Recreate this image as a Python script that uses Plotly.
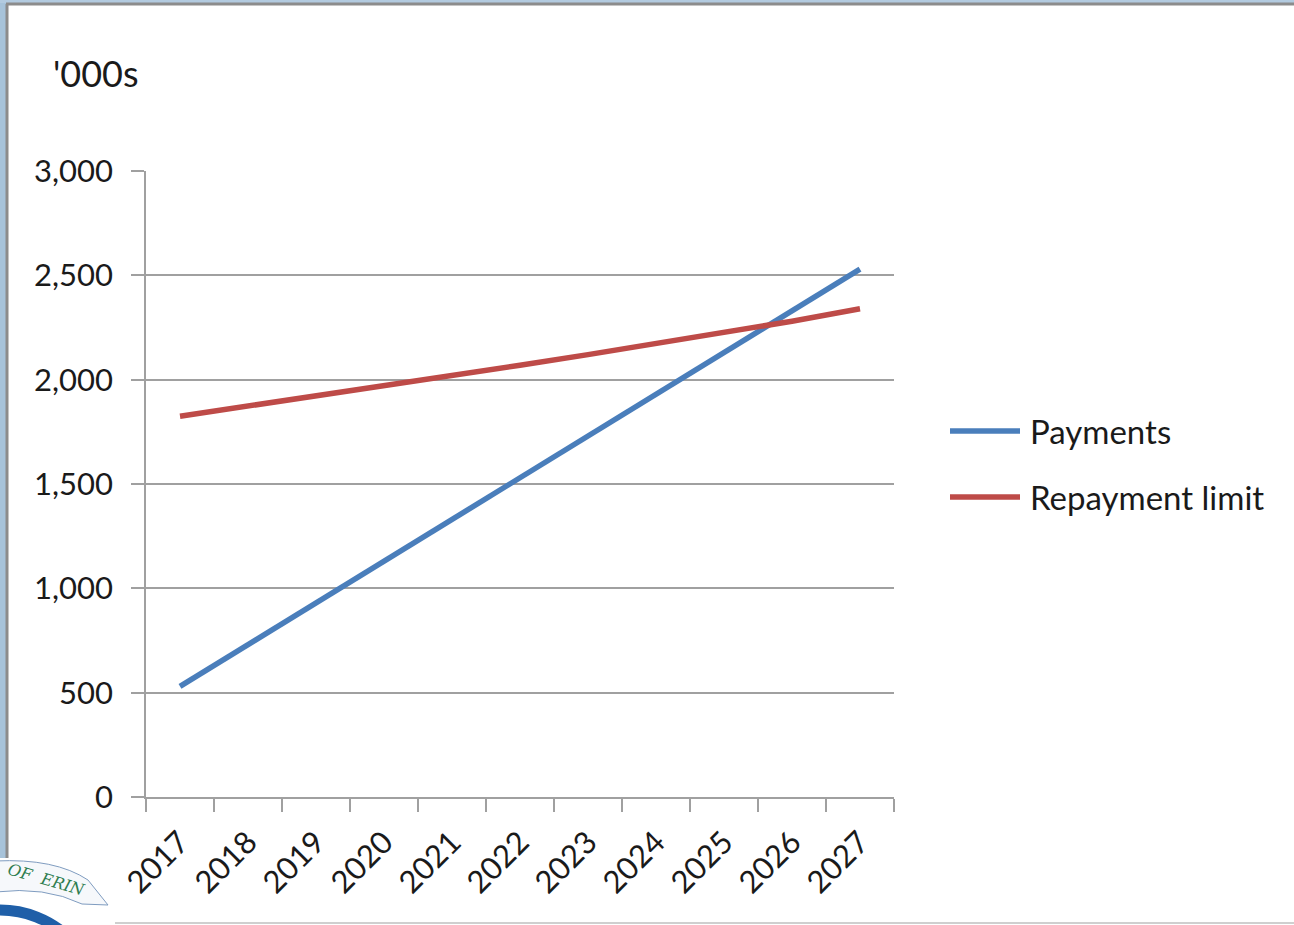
import plotly.graph_objects as go

# Annual figures in thousands
years = ["2017", "2018", "2019", "2020", "2021", "2022", "2023", "2024", "2025", "2026", "2027"]
payments = [530, 730, 935, 1135, 1335, 1535, 1735, 1935, 2135, 2335, 2530]
repayment_limit = [1825, 1873, 1922, 1971, 2020, 2069, 2120, 2172, 2225, 2280, 2340]
series_names = ["Payments", "Repayment limit"]
series_colors = ["#4A7EBB", "#BE4B48"]
y_ticks = [0, 500, 1000, 1500, 2000, 2500, 3000]
y_tick_labels = ["0", "500", "1,000", "1,500", "2,000", "2,500", "3,000"]

W, H = 1294, 925
L, R, T, B = 146, 400, 171, 128
PW, PH = W - L - R, H - T - B


def px(x):
    return (x - L) / PW


def py(y):
    return (H - B - y) / PH


FONT = "Lato, Calibri, Carlito, sans-serif"
TXT = "#1a1a1a"
GRID = "#a0a0a0"

fig = go.Figure()
for name, vals, col in zip(series_names, [payments, repayment_limit], series_colors):
    fig.add_trace(go.Scatter(
        x=years, y=vals, mode="lines", name=name,
        line=dict(color=col, width=5.5), showlegend=False,
    ))

shapes = []
annotations = []

# Legend drawn as swatch lines with labels
for i, (name, col) in enumerate(zip(series_names, series_colors)):
    yy = py(431 + i * 66)
    shapes.append(dict(type="line", xref="paper", yref="paper",
                       x0=px(950), x1=px(1020), y0=yy, y1=yy,
                       line=dict(color=col, width=5.5)))
    annotations.append(dict(xref="paper", yref="paper", x=px(1028), y=yy,
                            text=name, showarrow=False, xanchor="left", yanchor="middle",
                            font=dict(family=FONT, size=33, color=TXT)))

# Unit label
annotations.append(dict(xref="paper", yref="paper", x=px(51), y=py(73),
                        text="'000s", showarrow=False, xanchor="left", yanchor="middle",
                        font=dict(family=FONT, size=36, color=TXT)))

# Slide frame
shapes.append(dict(type="rect", xref="paper", yref="paper", layer="below",
                   x0=px(-2), x1=px(6), y0=py(858), y1=py(-5),
                   fillcolor="#a7c3da", line=dict(width=0)))
shapes.append(dict(type="rect", xref="paper", yref="paper", layer="below",
                   x0=px(-2), x1=px(W + 5), y0=py(3), y1=py(-5),
                   fillcolor="#b3cbe0", line=dict(width=0)))
shapes.append(dict(type="line", xref="paper", yref="paper",
                   x0=px(6), x1=px(W + 5), y0=py(4), y1=py(4),
                   line=dict(color="#8c8c8c", width=3)))
shapes.append(dict(type="line", xref="paper", yref="paper",
                   x0=px(7), x1=px(7), y0=py(4), y1=py(858),
                   line=dict(color="#8c8c8c", width=3)))
shapes.append(dict(type="line", xref="paper", yref="paper",
                   x0=px(115), x1=px(W + 5), y0=py(923), y1=py(923),
                   line=dict(color="#bfbfbf", width=1.5)))

# Corner emblem
shapes.append(dict(type="circle", xref="paper", yref="paper",
                   x0=px(-100), x1=px(100), y0=py(910), y1=py(1110),
                   line=dict(color="#1f5fa8", width=11)))
shapes.append(dict(type="path", xref="paper", yref="paper",
                   path=f"M {px(-5)} {py(861)} Q {px(55)} {py(858)} {px(88)} {py(880)} "
                        f"L {px(108)} {py(905)} L {px(82)} {py(904)} "
                        f"Q {px(45)} {py(886)} {px(-5)} {py(892)} Z",
                   fillcolor="#f6f8fb", line=dict(color="#7f9cc0", width=1)))
annotations.append(dict(xref="paper", yref="paper", x=px(46), y=py(879),
                        xanchor="center", yanchor="middle",
                        text="<i>OF  ERIN</i>", showarrow=False, textangle=16,
                        font=dict(family="DejaVu Serif, serif", size=16, color="#2e7d4f")))

fig.update_layout(
    width=W, height=H,
    margin=dict(l=L, r=R, t=T, b=B, autoexpand=False),
    paper_bgcolor="white", plot_bgcolor="white",
    font=dict(family=FONT, size=31, color=TXT),
    shapes=shapes, annotations=annotations,
    xaxis=dict(
        type="category", tickson="boundaries", range=[-0.5, 10.5],
        showgrid=False, showline=True, linecolor=GRID, linewidth=1.5,
        ticks="outside", ticklen=13, tickcolor=GRID, tickwidth=1.5,
        tickangle=-45, ticklabelstandoff=13,
        tickfont=dict(family=FONT, size=31, color=TXT),
    ),
    yaxis=dict(
        range=[0, 3000], tickvals=y_ticks, ticktext=y_tick_labels,
        showgrid=True, gridcolor=GRID, gridwidth=1.5,
        showline=True, linecolor=GRID, linewidth=1.5,
        ticks="outside", ticklen=13, tickcolor=GRID, tickwidth=1.5,
        ticklabelstandoff=12, zeroline=False,
        tickfont=dict(family=FONT, size=31, color=TXT),
    ),
)

fig.write_html("out.html")
